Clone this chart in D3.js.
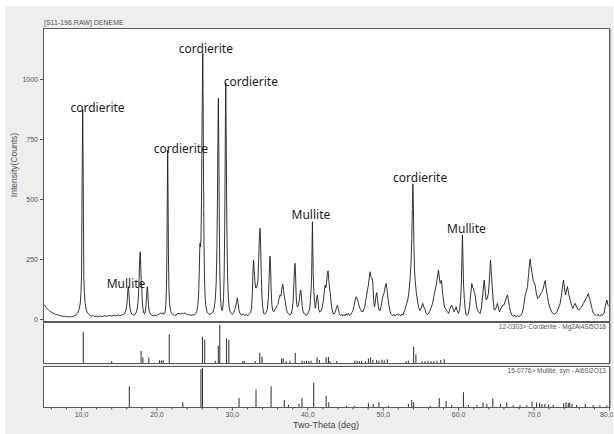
<!DOCTYPE html>
<html><head><meta charset="utf-8">
<script src="https://cdn.jsdelivr.net/npm/d3@7"></script>
<style>
html,body{margin:0;padding:0;background:#fff;}
svg{display:block;}
</style></head>
<body><svg id="c" width="614" height="434"></svg>
<script>
// Measured pattern: [2θ (deg), intensity (counts)]
const pattern = [
[5.0,62],[5.1,60],[5.25,54],[5.4,47],[5.55,42],[5.7,37],[5.85,33],[6.0,30],[6.2,26],[6.4,23],[6.6,20],[6.8,18],[7.0,16],[7.2,14],[7.4,13],[7.6,11],[7.8,12],[8.0,9],[8.2,11],[8.4,8],[8.6,10],[8.8,9],[9.0,12],[9.2,14],[9.35,17],[9.5,22],[9.62,30],
[9.77,45],[9.9,65],[10.0,110],[10.07,180],[10.12,440],[10.17,690],[10.22,871],[10.27,690],[10.32,440],[10.37,180],[10.44,110],[10.54,65],[10.67,42],[10.82,28],[11.0,20],[11.2,15],
[11.4,12],[11.6,14],[11.8,10],[12.0,12],[12.2,9],[12.4,11],[12.6,13],[12.8,10],[13.0,12],[13.2,14],[13.4,11],[13.6,13],[13.8,15],[14.0,12],[14.2,14],[14.4,16],[14.6,13],[14.8,15],[15.0,17],[15.2,14],[15.4,16],[15.6,19],[15.8,24],
[15.95,35],[16.08,60],[16.16,95],[16.22,125],[16.28,135],[16.34,115],[16.42,70],[16.52,40],[16.65,25],[16.8,18],[17.0,16],[17.2,20],[17.35,30],
[17.5,50],[17.62,100],[17.7,170],[17.78,250],[17.85,280],[17.92,215],[17.98,160],[18.05,130],[18.12,75],[18.22,40],[18.32,25],[18.42,22],[18.52,32],
[18.62,55],[18.7,95],[18.76,128],[18.8,135],[18.86,110],[18.94,60],[19.05,32],[19.2,20],[19.4,15],[19.6,13],[19.8,16],[20.0,14],[20.2,18],[20.4,21],[20.55,25],[20.7,22],[20.85,26],[21.0,20],[21.15,28],
[21.25,60],[21.33,130],[21.39,280],[21.44,520],[21.49,704],[21.54,520],[21.59,280],[21.65,130],[21.74,65],[21.85,38],[22.0,25],[22.2,18],[22.4,15],[22.6,17],[22.8,21],[23.0,24],[23.2,20],[23.4,25],[23.6,22],[23.8,26],[24.0,20],[24.2,17],[24.4,19],[24.6,15],[24.8,18],[25.0,16],[25.2,22],[25.35,32],[25.5,60],
[25.6,110],[25.68,200],[25.74,290],[25.78,316],[25.83,300],[25.9,330],[25.97,480],[26.03,760],[26.09,960],[26.14,1107],[26.19,900],[26.24,600],[26.3,330],[26.37,170],[26.46,85],[26.58,48],[26.72,30],[26.9,22],[27.1,19],[27.3,23],[27.5,30],[27.65,45],[27.8,80],
[27.92,150],[28.02,300],[28.09,500],[28.15,760],[28.21,920],[28.27,720],[28.33,420],[28.4,200],[28.48,95],[28.58,50],[28.7,35],[28.8,45],[28.9,90],
[28.98,190],[29.05,380],[29.1,600],[29.15,860],[29.19,983],[29.24,800],[29.3,520],[29.36,330],[29.43,190],[29.52,95],[29.63,50],[29.78,30],[29.95,22],[30.1,20],[30.25,28],[30.4,40],[30.52,55],
[30.62,70],[30.73,88],[30.83,65],[30.95,35],[31.1,22],[31.3,16],[31.5,20],[31.7,15],[31.9,18],[32.1,14],[32.3,20],[32.5,28],
[32.6,45],[32.72,110],[32.8,200],[32.88,246],[32.96,200],[33.05,160],[33.15,130],[33.3,130],[33.45,160],[33.55,240],[33.65,340],[33.74,378],[33.82,300],[33.9,180],[34.0,90],[34.1,45],[34.2,25],
[34.35,20],[34.5,25],[34.7,40],[34.85,90],[34.95,180],[35.02,245],[35.07,262],[35.13,220],[35.2,130],[35.3,60],[35.42,35],[35.55,30],
[35.7,40],[35.85,48],[35.95,55],[36.1,60],[36.25,85],[36.39,100],[36.5,95],[36.62,125],[36.74,146],[36.85,120],[36.95,95],[37.05,79],[37.2,45],[37.36,28],[37.55,20],[37.7,16],[37.85,22],
[38.0,40],[38.12,75],[38.22,140],[38.3,210],[38.38,232],[38.45,180],[38.52,100],[38.6,60],[38.7,50],
[38.8,55],[38.95,80],[39.05,110],[39.13,121],[39.22,95],[39.32,55],[39.45,30],[39.6,22],[39.75,18],[39.93,16],[40.1,25],[40.2,32],
[40.3,40],[40.4,70],[40.5,120],[40.58,190],[40.63,300],[40.68,405],[40.73,300],[40.78,190],[40.86,120],[40.96,70],[41.06,45],[41.15,60],[41.25,90],[41.34,100],[41.42,80],[41.52,40],[41.65,28],[41.8,32],
[41.95,45],[42.1,70],[42.25,110],[42.36,141],[42.46,130],[42.55,150],[42.66,190],[42.76,201],[42.86,160],[42.96,125],[43.05,110],[43.15,70],[43.28,40],[43.4,25],[43.55,20],[43.7,28],[43.85,45],[44.0,58],[44.12,40],[44.25,22],
[44.4,15],[44.55,20],[44.7,12],[44.85,18],[45.0,14],[45.15,21],[45.3,16],[45.45,24],[45.6,15],[45.75,19],[45.9,26],[46.05,35],[46.2,55],[46.35,80],[46.47,93],[46.6,85],[46.75,70],[46.9,50],[47.05,40],[47.2,30],[47.4,32],
[47.6,50],[47.8,85],[47.97,121],[48.1,140],[48.22,175],[48.33,197],[48.45,175],[48.58,170],[48.68,150],[48.8,80],[48.9,50],[49.0,65],[49.1,95],[49.21,110],[49.3,85],[49.42,50],[49.52,37],
[49.65,35],[49.8,55],[49.92,80],[50.02,95],[50.15,105],[50.3,130],[50.45,148],[50.58,120],[50.7,85],[50.82,60],[50.95,35],[51.07,23],
[51.2,18],[51.35,14],[51.5,20],[51.65,12],[51.8,17],[51.95,22],[52.1,15],[52.25,19],[52.4,13],[52.55,21],[52.7,18],[52.85,30],[53.0,45],
[53.19,65],[53.35,85],[53.5,120],[53.63,169],[53.75,230],[53.85,330],[53.93,460],[54.0,562],[54.07,460],[54.14,300],[54.22,200],[54.3,162],[54.45,110],[54.6,79],[54.75,50],[54.9,35],
[55.1,45],[55.3,65],[55.45,50],[55.6,40],[55.75,25],[55.9,18],[56.05,22],[56.2,30],[56.4,45],
[56.6,65],[56.8,95],[56.95,121],[57.1,140],[57.25,175],[57.39,204],[57.5,175],[57.61,148],[57.7,155],[57.79,162],[57.9,120],[58.05,79],[58.2,50],[58.41,37],
[58.6,30],[58.72,23],[58.85,35],[59.0,50],[59.16,58],[59.3,45],[59.47,30],[59.6,40],[59.73,51],[59.88,35],[60.04,23],
[60.2,40],[60.32,80],[60.42,140],[60.5,250],[60.57,350],[60.64,250],[60.72,140],[60.82,85],[60.94,40],[61.06,18],
[61.2,15],[61.37,23],[61.5,50],[61.65,100],[61.81,148],[61.92,130],[62.03,128],[62.15,110],[62.25,100],[62.4,60],[62.56,37],[62.75,28],[62.92,23],
[63.1,50],[63.25,100],[63.45,162],[63.58,120],[63.71,79],[63.85,85],[64.02,107],[64.15,170],[64.29,246],[64.42,180],[64.55,121],[64.67,70],[64.77,37],
[64.95,40],[65.1,55],[65.22,65],[65.35,45],[65.48,30],[65.7,45],[65.92,58],[66.1,60],[66.3,80],[66.45,95],[66.54,100],[66.65,80],[66.81,51],[66.95,30],[67.12,16],
[67.3,12],[67.5,15],[67.7,10],[67.9,14],[68.1,11],[68.3,16],[68.5,25],[68.7,55],
[68.89,100],[69.05,115],[69.2,135],[69.35,190],[69.47,235],[69.55,250],[69.65,220],[69.81,190],[69.95,160],[70.1,150],[70.21,141],[70.35,110],[70.52,86],[70.7,90],[70.88,100],[71.05,110],[71.23,121],[71.4,145],[71.54,160],[71.65,130],[71.85,93],[72.0,65],[72.2,44],[72.4,30],[72.55,23],
[72.8,20],[73.09,30],[73.3,45],[73.53,65],[73.7,100],[73.85,140],[73.97,162],[74.1,130],[74.23,100],[74.37,120],[74.5,135],[74.65,105],[74.85,79],[75.05,55],[75.21,44],[75.35,55],[75.52,65],[75.7,50],[75.96,37],[76.2,45],[76.4,51],
[76.6,65],[76.84,79],[77.05,90],[77.18,100],[77.28,107],[77.42,85],[77.6,65],[77.78,40],[77.95,23],
[78.15,18],[78.35,14],[78.55,20],[78.75,12],[78.95,18],[79.15,15],[79.35,25],[79.5,51],[79.62,65],[79.72,79],[79.85,60],[80.0,55]
];

// Reference card 12-0303 Cordierite: [2θ, relative intensity %]
const cordieriteSticks = [
[10.3,82],[14.07,5],[17.96,32],[18.2,15],[19.0,15],[20.4,7],[20.65,7],[20.9,7],[21.7,76],[26.1,69],[26.4,61],[27.8,6],[28.2,46],[28.4,100],[29.3,65],[29.6,61],[31.45,5],[31.65,5],[33.1,5],[33.7,27],[34.0,16],[36.6,12],[36.8,12],[37.2,5],[37.7,6],[38.4,27],[39.3,6],[39.6,5],[39.9,6],[40.2,5],[40.5,6],[41.3,15],[41.6,8],[42.5,15],[42.8,16],[43.0,5],[43.9,5],[46.3,6],[46.6,6],[46.9,5],[47.2,6],[47.7,5],[48.1,12],[48.4,15],[48.7,8],[49.2,8],[49.5,6],[49.9,9],[50.2,7],[50.6,10],[53.1,5],[53.4,6],[54.1,43],[54.4,23],[55.2,5],[55.6,5],[56.0,6],[56.4,5],[56.8,5],[57.2,6],[57.7,8],[58.15,10]
];
// Reference card 15-0776 Mullite: [2θ, relative intensity %]
const mulliteSticks = [
[16.4,53],[23.5,12],[25.9,97],[26.1,100],[30.95,23],[33.2,45],[35.2,53],[36.95,18],[37.5,6],[38.9,8],[39.3,23],[40.85,62],[42.5,29],[42.85,12],[45.2,3],[46.3,3],[48.1,10],[48.75,8],[49.5,12],[50.75,3],[53.4,8],[53.85,18],[54.1,12],[56.3,3],[57.5,23],[58.4,15],[59.15,5],[60.7,38],[61.35,5],[62.5,5],[63.3,12],[63.8,8],[64.6,22],[65.6,8],[66.45,12],[67.3,4],[68.2,5],[69.1,4],[69.8,14],[70.4,12],[70.8,10],[71.1,8],[71.5,8],[72.0,6],[72.6,5],[74.0,10],[74.3,12],[74.6,10],[74.8,12],[75.1,8],[75.7,5],[76.85,8],[77.9,5],[78.8,4],[79.7,4]
];

const yTicks = [0,250,500,750,1000];
const yTickLabels = ["0","250","500","750","1000"];
const xMinorTicks = [6,8,12,14,16,18,22,24,26,28,32,34,36,38,42,44,46,48,52,54,56,58,62,64,66,68,72,74,76,78];
const xMajorTicks = [10,20,30,40,50,60,70,80];
const xTickLabels = ["10,0","20,0","30,0","40,0","50,0","60,0","70,0","80,0"];
// Peak annotations: [2θ, counts, text]
const annotations = [
[12.19,880,"cordierite"],[15.97,146,"Mullite"],[23.24,711,"cordierite"],[26.55,1124,"cordierite"],
[32.52,989,"cordierite"],[40.48,436,"Mullite"],[54.96,587,"cordierite"],[61.1,374,"Mullite"]
];
const titleText = "[S11-196.RAW] DENEME";
const cordCardText = "12-0303> Cordierite - Mg2Al4Si5O18";
const mullCardText = "15-0776> Mullite, syn - Al6Si2O13";
const xTitle = "Two-Theta (deg)";
const yTitle = "Intensity(Counts)";

const svg = d3.select("#c");
const F = "'Liberation Sans', Arial, sans-serif";
svg.append("rect").attr("x",5).attr("y",6).attr("width",608).attr("height",428).attr("fill","#eeeeee");

const L = 43, R = 609;
const x = d3.scaleLinear().domain([5,80]).range([43.3,609]);
const y = d3.scaleLinear().domain([0,1000]).range([319,79]);
const main = {top:28,bottom:321}, p2 = {top:322,bottom:363}, p3 = {top:366,bottom:407};
const y2 = d3.scaleLinear().domain([0,100]).range([p2.bottom,p2.top+3]);
const y3 = d3.scaleLinear().domain([0,100]).range([p3.bottom,p3.top+2]);

function frame(p){
  svg.append("rect").attr("x",L+0.5).attr("y",p.top+0.5).attr("width",R-L).attr("height",p.bottom-p.top)
    .attr("fill","#fff").attr("stroke","#5a5a5a").attr("stroke-width",1);
  svg.append("line").attr("x1",R+1.5).attr("x2",R+1.5).attr("y1",p.top+1).attr("y2",p.bottom+1)
    .attr("stroke","#b0b0b0").attr("stroke-width",1);
}
[main,p2,p3].forEach(frame);

svg.append("clipPath").attr("id","clipMain").append("rect")
  .attr("x",L+1).attr("y",main.top+1).attr("width",R-L-1).attr("height",main.bottom-main.top-1);

svg.append("path").datum(pattern)
  .attr("clip-path","url(#clipMain)")
  .attr("fill","none").attr("stroke","#1c1c1c").attr("stroke-width",0.9).attr("stroke-linejoin","round")
  .attr("d",d3.line().x(d=>x(d[0])).y(d=>y(d[1])));

svg.append("g").selectAll("line").data(cordieriteSticks).join("line")
  .attr("x1",d=>x(d[0])).attr("x2",d=>x(d[0])).attr("y1",y2(0)).attr("y2",d=>y2(d[1]))
  .attr("stroke","#2a2a2a").attr("stroke-width",1);
svg.append("g").selectAll("line").data(mulliteSticks).join("line")
  .attr("x1",d=>x(d[0])).attr("x2",d=>x(d[0])).attr("y1",y3(0)).attr("y2",d=>y3(d[1]))
  .attr("stroke","#2a2a2a").attr("stroke-width",1);

// Y axis
const ya = svg.append("g").attr("transform",`translate(${L},0)`)
  .call(d3.axisLeft(y).tickValues(yTicks).tickSize(3).tickPadding(2).tickFormat((d,i)=>yTickLabels[i]));
ya.select(".domain").remove();
ya.selectAll("line").attr("stroke","#555");
ya.selectAll("text").attr("font-family",F).attr("font-size",7).attr("fill","#555");

// X axis
const xa = svg.append("g").attr("transform",`translate(0,${p3.bottom+0.5})`)
  .call(d3.axisBottom(x).tickValues(xMinorTicks).tickSize(2).tickFormat(""));
xa.select(".domain").remove();
xa.selectAll("line").attr("stroke","#555");
const xb = svg.append("g").attr("transform",`translate(0,${p3.bottom+0.5})`)
  .call(d3.axisBottom(x).tickValues(xMajorTicks).tickSize(3).tickPadding(2).tickFormat((d,i)=>xTickLabels[i]));
xb.select(".domain").remove();
xb.selectAll("line").attr("stroke","#555");
xb.selectAll("text").attr("font-family",F).attr("font-size",7).attr("fill","#555");
xb.selectAll("text").filter(d=>d===80).attr("text-anchor","end").attr("dx",4);

svg.append("text").attr("x",326).attr("y",428).attr("text-anchor","middle")
  .attr("font-family",F).attr("font-size",9).attr("fill","#444").text(xTitle);
svg.append("text").attr("transform","translate(17,165) rotate(-90)").attr("text-anchor","middle")
  .attr("font-family",F).attr("font-size",8.5).attr("fill","#555").text(yTitle);
svg.append("text").attr("x",44).attr("y",25).attr("font-family",F).attr("font-size",7).attr("fill","#555").text(titleText);
svg.append("text").attr("x",R-3).attr("y",p2.top+7).attr("text-anchor","end")
  .attr("font-family",F).attr("font-size",6.5).attr("fill","#555").text(cordCardText);
svg.append("text").attr("x",R-3).attr("y",p3.top+7).attr("text-anchor","end")
  .attr("font-family",F).attr("font-size",6.5).attr("fill","#555").text(mullCardText);

svg.append("g").selectAll("text").data(annotations).join("text")
  .attr("x",d=>x(d[0])).attr("y",d=>y(d[1])).attr("dy","0.35em").attr("text-anchor","middle")
  .attr("font-family","'Noto Sans', 'Open Sans', sans-serif").attr("font-size",12).attr("fill","#1a1a22")
  .text(d=>d[2]);
</script>
</body></html>
